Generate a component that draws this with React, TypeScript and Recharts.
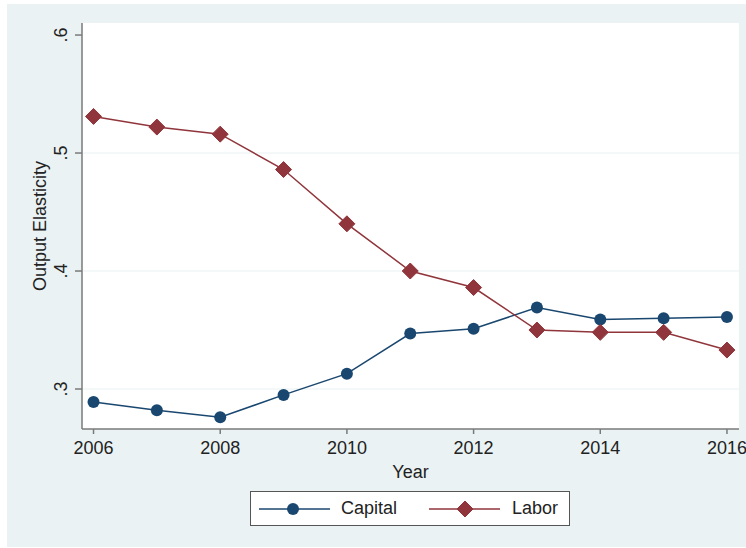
import { LineChart, Line, XAxis, YAxis, CartesianGrid, Legend } from "recharts";

const years = [2006, 2007, 2008, 2009, 2010, 2011, 2012, 2013, 2014, 2015, 2016];
const capital = [0.289, 0.282, 0.276, 0.295, 0.313, 0.347, 0.351, 0.369, 0.359, 0.36, 0.361];
const labor = [0.531, 0.522, 0.516, 0.486, 0.44, 0.4, 0.386, 0.35, 0.348, 0.348, 0.333];
const xTicks = [2006, 2008, 2010, 2012, 2014, 2016];
const yTicks = [0.3, 0.4, 0.5, 0.6];
const gridValues = [0.3, 0.4, 0.5];

const NAVY = "#1a476f";
const MAROON = "#90353b";
const AXIS = "#7a7a7a";
const TEXT = "#222";
const BG = "#eaf2f3";
const FONT = "'Liberation Sans', Arial, Helvetica, sans-serif";

const data = years.map((y, i) => ({ year: y, capital: capital[i], labor: labor[i] }));

function Diamond({ cx, cy, color, size = 8 }: any) {
  if (cx == null || cy == null) return null;
  return (
    <polygon
      points={`${cx},${cy - size} ${cx + size},${cy} ${cx},${cy + size} ${cx - size},${cy}`}
      fill={color}
      stroke={color}
    />
  );
}

function YTick({ x, y, payload }: any) {
  const label = "." + Math.round(payload.value * 10);
  return (
    <text
      transform={`translate(${x - 6}, ${y}) rotate(-90)`}
      textAnchor="middle"
      fontSize={18}
      fill={TEXT}
      fontFamily={FONT}
    >
      {label}
    </text>
  );
}

function YLabel({ viewBox }: any) {
  const cy = viewBox.y + viewBox.height / 2;
  return (
    <text
      transform={`translate(39, ${cy}) rotate(-90)`}
      textAnchor="middle"
      fontSize={18}
      fill={TEXT}
      fontFamily={FONT}
    >
      Output Elasticity
    </text>
  );
}

function LegendBox() {
  return (
    <div
      style={{
        position: "relative",
        width: 320,
        height: 35,
        boxSizing: "border-box",
        border: "1px solid #555",
        background: "#fff",
        fontFamily: FONT,
        fontSize: 18,
        color: TEXT,
      }}
    >
      <svg width={320} height={35} style={{ position: "absolute", left: -1, top: -1 }}>
        <line x1={9} y1={18} x2={80} y2={18} stroke={NAVY} strokeWidth={1.5} />
        <circle cx={43} cy={18} r={6} fill={NAVY} />
        <line x1={179} y1={18} x2={250} y2={18} stroke={MAROON} strokeWidth={1.5} />
        <Diamond cx={215} cy={18} color={MAROON} size={8} />
      </svg>
      <span style={{ position: "absolute", left: 90, top: 6, lineHeight: "21px" }}>Capital</span>
      <span style={{ position: "absolute", left: 261, top: 6, lineHeight: "21px" }}>Labor</span>
    </div>
  );
}

export default function App() {
  return (
    <div style={{ position: "absolute", left: 0, top: 0, width: 746, height: 548, background: "#fff" }}>
      <div style={{ position: "absolute", left: 7, top: 4, width: 739, height: 543, background: BG }}>
        <LineChart width={739} height={543} data={data} margin={{ top: 19, right: 7, left: 0, bottom: 21 }}>
          <CartesianGrid
            vertical={false}
            horizontalValues={gridValues}
            stroke={BG}
            strokeWidth={1.2}
            fill="#fff"
          />
          <XAxis
            dataKey="year"
            type="number"
            domain={[2005.818, 2016.19]}
            ticks={xTicks}
            height={62}
            tickSize={5}
            tickMargin={7}
            stroke={AXIS}
            strokeWidth={1.5}
            tick={{ fontSize: 18, fill: TEXT, fontFamily: FONT }}
            allowDataOverflow
            label={{ value: "Year", position: "insideBottom", offset: 13, fontSize: 18, fill: TEXT, fontFamily: FONT }}
          />
          <YAxis
            type="number"
            domain={[0.2661, 0.6102]}
            ticks={yTicks}
            width={75}
            tickSize={7}
            tickMargin={2}
            stroke={AXIS}
            strokeWidth={1.5}
            tick={<YTick />}
            allowDataOverflow
            label={<YLabel />}
          />
          <Legend
            verticalAlign="bottom"
            content={<LegendBox />}
            wrapperStyle={{ left: 243, width: 320, bottom: 21 }}
          />
          <Line
            dataKey="capital"
            name="Capital"
            stroke={NAVY}
            strokeWidth={1.5}
            dot={{ r: 6, fill: NAVY, stroke: NAVY, strokeWidth: 0 }}
            isAnimationActive={false}
          />
          <Line
            dataKey="labor"
            name="Labor"
            stroke={MAROON}
            strokeWidth={1.5}
            dot={(p: any) => <Diamond key={p.index} cx={p.cx} cy={p.cy} color={MAROON} />}
            isAnimationActive={false}
          />
        </LineChart>
      </div>
    </div>
  );
}
